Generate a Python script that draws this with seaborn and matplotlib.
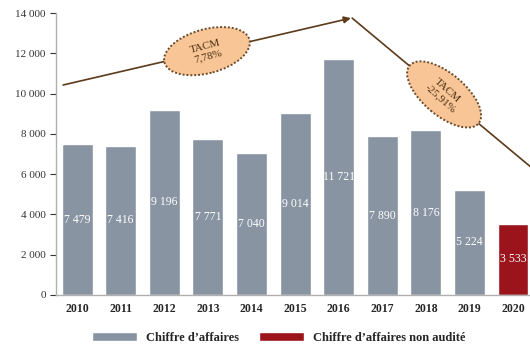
import matplotlib
matplotlib.use("Agg")
import matplotlib.pyplot as plt
import seaborn as sns
import pandas as pd
from matplotlib.ticker import FuncFormatter
from matplotlib.patches import Ellipse
from matplotlib.transforms import ScaledTranslation

years = ["2010", "2011", "2012", "2013", "2014", "2015", "2016", "2017", "2018", "2019", "2020"]
revenue = [7479, 7416, 9196, 7771, 7040, 9014, 11721, 7890, 8176, 5224, 3533]
status = ["Chiffre d’affaires"] * 10 + ["Chiffre d’affaires non audité"]
palette = {"Chiffre d’affaires": "#8894A2", "Chiffre d’affaires non audité": "#9B141B"}
tacm_labels = ["TACM\n7,78%", "TACM\n-25,91%"]

df = pd.DataFrame({"annee": years, "ca": revenue, "statut": status})

sns.set_style("white")
plt.rcParams["font.family"] = ["Liberation Serif", "DejaVu Serif"]

fig = plt.figure(figsize=(5.3, 3.45), dpi=100)
ax = fig.add_axes([0.106, 0.145, 0.894, 0.817])

sns.barplot(data=df, x="annee", y="ca", hue="statut", palette=palette, saturation=1,
            dodge=False, width=0.71, ax=ax, legend=True)

for i, v in enumerate(revenue):
    ax.text(i, v / 2, f"{v:,}".replace(",", " "), ha="center", va="center",
            color="white", fontsize=8.5)

ax.set_xlim(-0.48, 10.39)
ax.set_ylim(0, 14000)
ax.set_yticks(range(0, 14001, 2000))
ax.yaxis.set_major_formatter(FuncFormatter(lambda v, p: f"{int(v):,}".replace(",", " ")))
ax.set_xlabel("")
ax.set_ylabel("")
ax.tick_params(axis="y", labelsize=8, colors="#333333", length=4, width=0.8, left=True)
ax.tick_params(axis="x", labelsize=8.5, length=0, pad=6)
for lab in ax.get_xticklabels():
    lab.set_fontweight("bold")
for s in ["top", "right"]:
    ax.spines[s].set_visible(False)
for s in ["left", "bottom"]:
    ax.spines[s].set_color("#b0b0b0")
    ax.spines[s].set_linewidth(1.0)

# flèches de tendance (TACM)
brown = "#5C3A1A"
arrow = dict(arrowstyle="-|>", color=brown, lw=1.2, mutation_scale=10, shrinkA=0, shrinkB=0)
ax.annotate("", xy=(6.28, 13750), xytext=(-0.32, 10430), arrowprops=arrow,
            annotation_clip=False)
ax.annotate("", xy=(10.7, 5830), xytext=(6.31, 13752), arrowprops=arrow,
            annotation_clip=False)


def bulle(x, y, w, h, angle, texte, rot):
    tr = fig.dpi_scale_trans + ScaledTranslation(x, y, ax.transData)
    ax.add_patch(Ellipse((0, 0), w, h, angle=angle, transform=tr, fc="#F8C596",
                         ec="#6B4A2A", ls=(0, (1, 1)), lw=1.4, zorder=5, clip_on=False))
    ax.text(x, y, texte, ha="center", va="center", rotation=rot, fontsize=8,
            color="#4A2E12", linespacing=1.15, zorder=6)


bulle(2.98, 12110, 0.88, 0.44, 15, tacm_labels[0], 15)
bulle(8.42, 9960, 0.90, 0.42, -40, tacm_labels[1], -42)

ax.legend(loc="upper center", bbox_to_anchor=(0.47, -0.09), ncol=2, frameon=False,
          handlelength=3.6, handleheight=0.8, columnspacing=1.6, handletextpad=0.7,
          prop={"weight": "bold", "size": 9})

fig.savefig("out.png", dpi=100)
